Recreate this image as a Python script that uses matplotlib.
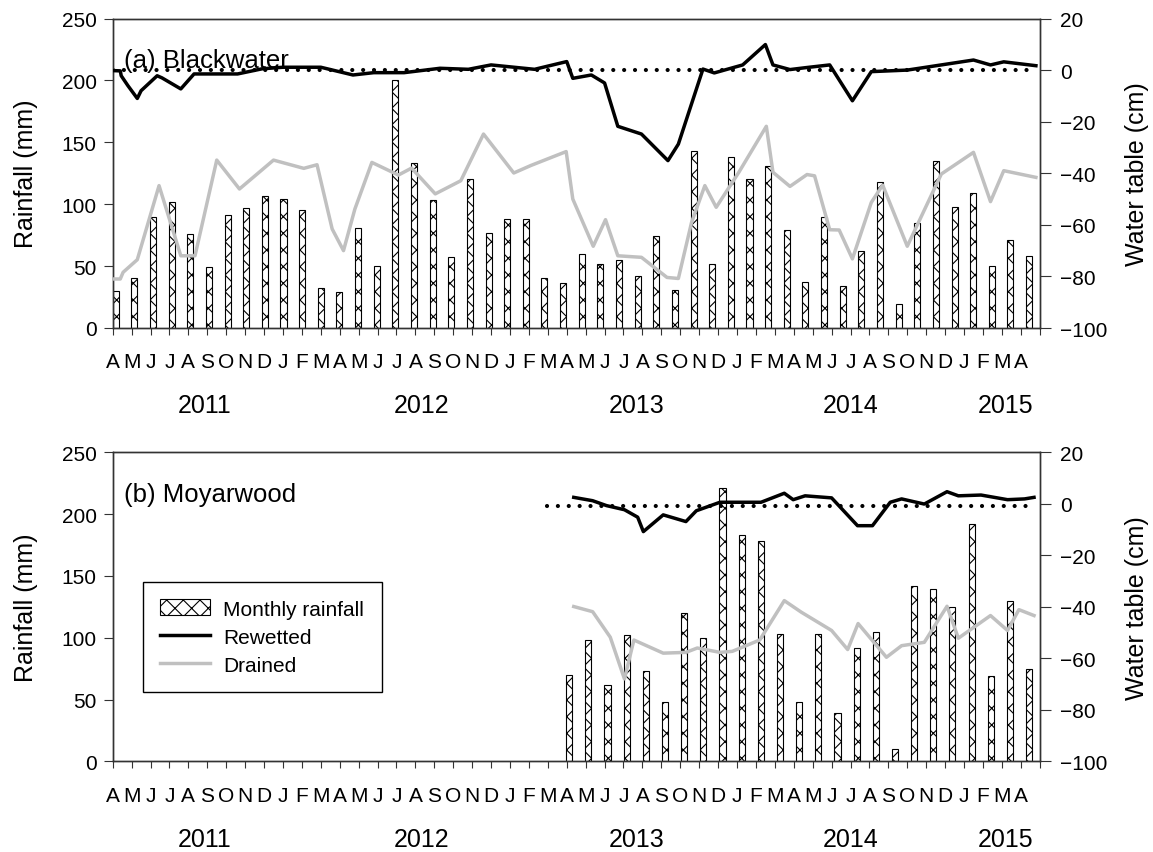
import numpy as np
import matplotlib
matplotlib.use("Agg")
import matplotlib.pyplot as plt
from matplotlib.patches import Patch
from matplotlib.lines import Line2D

plt.rcParams['font.family'] = ['Liberation Sans', 'DejaVu Sans']
plt.rcParams['hatch.linewidth'] = 0.8

# month labels, April 2011 .. April 2015
months = list("AMJJASOND") + list("JFMAMJJASOND") * 3 + list("JFMA")
years = ["2011", "2012", "2013", "2014", "2015"]
year_pos = [4.87, 16.33, 27.68, 39.03, 47.2]

# (a) Blackwater - monthly rainfall (mm), Apr 2011 .. May 2015
rain_a = [30, 40, 90, 102, 76, 49, 91, 97, 107, 104, 95, 32, 29, 81, 50,
          200, 133, 103, 57, 120, 77, 88, 88, 40, 36, 60, 52, 55, 42, 74,
          31, 143, 52, 138, 120, 131, 79, 37, 90, 34, 62, 118, 19, 85, 135,
          98, 109, 50, 71, 58]

# water table (cm), x in months since April 2011
wet_a_x = [0.0, 0.4, 0.45, 0.8, 1.3, 1.5, 2.35, 2.6, 3.6, 4.3, 6.6, 7.9, 9.0,
           11.0, 12.7, 13.8, 15.4, 17.3, 18.8, 20.0, 22.3, 24.0, 24.32, 25.3,
           26.0, 26.7, 27.95, 29.35, 29.9, 31.2, 31.8, 33.3, 34.5, 34.9, 35.8,
           36.7, 37.9, 39.1, 40.1, 42.0, 45.5, 46.4, 47.1, 48.8]
wet_a = [-0.2, -0.3, -2.2, -6, -11, -8, -2.2, -3, -7.3, -1.5, -1.5, 0.5, 1.1,
         1.1, -1.9, -1, -1, 0.7, 0.3, 2.0, 0.3, 3.3, -3.2, -1.9,
         -5, -21.8, -24.8, -35.1, -28.7, 0.4, -1.1, 2, 9.9, 2, 0.2,
         1, 2, -11.9, -0.6, 0, 3.9, 2, 3.2, 1.7]

dry_a_x = [0.0, 0.4, 0.55, 1.3, 2.45, 3.6, 4.35, 5.5, 6.7, 8.5, 10.1, 10.8,
           11.6, 12.2, 12.8, 13.7, 15.1, 15.8, 17.05, 18.4, 19.6, 21.2, 22.1,
           23.97, 24.32, 25.4, 26.05, 26.7, 27.95, 29.3, 29.9, 30.6, 31.3,
           31.9, 33.1, 34.55, 34.9, 35.8, 36.7, 37.1, 37.9, 38.4, 39.1, 40.1,
           40.7, 42.0, 43.8, 45.5, 46.4, 47.1, 48.8]
dry_a = [-81, -81, -78.4, -73.5, -44.8, -72, -72, -34.9, -46.1, -34.9, -38.1,
         -36.7, -61.6, -70, -53.9, -35.8, -40.7, -38, -48, -42.9, -24.8, -39.9,
         -37, -31.6, -50, -68.3, -58, -72, -72.6, -80.4, -80.8, -59, -44.8,
         -53.2, -39.6, -21.8, -39.6, -45.1, -40.5, -41, -61.9, -62, -73.2,
         -51.3, -44.6, -68.3, -40.3, -31.9, -51, -39, -41.6]

# (b) Moyarwood - monthly rainfall (mm), Apr 2013 .. Apr 2015
rain_b = [70, 98, 62, 102, 73, 48, 120, 100, 221, 183, 178, 103, 48, 103, 39,
          92, 105, 10, 142, 139, 125, 192, 69, 130, 75]

wet_b_x = [24.37, 25.37, 26.1, 27.05, 27.75, 28.05, 29.1, 30.3, 30.85, 32.1,
           34.27, 35.5, 35.97, 36.6, 38.0, 39.37, 40.16, 41.1, 41.7, 42.9,
           44.1, 44.7, 45.9, 47.3, 48.2, 48.7]
wet_b = [2.5, 1.2, -0.7, -2.3, -5.2, -10.8, -4.3, -6.9, -2.7, 0.6,
         0.6, 4.1, 1.6, 3.1, 2.3, -8.5, -8.5, 0.6, 1.9, -0.1,
         4.7, 3.1, 3.4, 1.6, 1.9, 2.5]

dry_b_x = [24.37, 25.37, 26.3, 27.05, 27.55, 29.1, 30.3, 30.9, 32.1, 32.75,
           34.2, 35.5, 36.4, 38.0, 38.85, 39.4, 40.9, 41.7, 42.9, 44.1, 44.7,
           46.4, 47.3, 47.9, 48.7]
dry_b = [-39.9, -41.9, -51.8, -68, -52.9, -58, -57.7, -56, -57.7, -57.3,
         -52.9, -37.6, -42.1, -49.2, -56.6, -46.5, -59.6, -55.1, -53.8, -39.8,
         -52.2, -43.4, -49.2, -41.1, -43.4]

GRAY = "#c0c0c0"
SPINE = "#333333"

fig = plt.figure(figsize=(11.53, 8.53), dpi=100)
ax_a = fig.add_axes([112.7 / 1153, 1 - 329 / 853, 927 / 1153, 309.5 / 853])
ax_b = fig.add_axes([112.7 / 1153, 1 - 762.3 / 853, 927 / 1153, 309 / 853])


def draw_panel(ax, rain, bar_x, wet_x, wet, dry_x, dry, ref_x, ref_y, title):
    ax.bar(bar_x, rain, width=0.32, align='edge', color='white',
           edgecolor='black', linewidth=0.8, hatch='xx', zorder=2)
    ax.set_xlim(0, 49)
    ax.set_ylim(0, 250)
    ax.set_yticks(range(0, 251, 50))
    ax.set_xticks(np.arange(50))
    ax.set_xticklabels(months + [""])
    ax.tick_params(axis='x', length=5, width=0.8, pad=12.5, labelsize=15,
                   color=SPINE)
    ax.tick_params(axis='y', length=6.5, width=0.8, pad=5, labelsize=15,
                   color=SPINE)
    ax.set_ylabel("Rainfall (mm)", fontsize=18)
    ax.yaxis.set_label_coords(-0.081, 0.5)
    for y, p in zip(years, year_pos):
        ax.text(p, -0.25, y, transform=ax.get_xaxis_transform(),
                ha='center', va='center', fontsize=18)

    tw = ax.twinx()
    tw.set_ylim(-100, 20)
    tw.set_yticks(range(-100, 21, 20))
    tw.tick_params(axis='y', length=8, width=0.8, pad=6.5, labelsize=15,
                   color=SPINE)
    tw.hlines(ref_y, ref_x[0], ref_x[1], colors='black', linewidth=3,
              linestyles=(0, (0.01, 2.6)), capstyle='round', zorder=2)
    tw.plot(dry_x, dry, color=GRAY, linewidth=2.5, zorder=3)
    tw.plot(wet_x, wet, color='black', linewidth=2.5, zorder=4)
    tw.set_ylabel("Water table (cm)", fontsize=18)
    tw.yaxis.set_label_coords(1.092, 0.5)
    tw.text(0.012, 0.866, title, transform=tw.transAxes, fontsize=18.5,
            ha='left', va='center')
    for a in (ax, tw):
        for s in a.spines.values():
            s.set_color(SPINE)
            s.set_linewidth(1)
    return tw


draw_panel(ax_a, rain_a, np.linspace(0.0, 48.28, len(rain_a)),
           wet_a_x, wet_a, dry_a_x, dry_a, (0.0, 48.8), 0, "(a) Blackwater")
tw_b = draw_panel(ax_b, rain_b, np.linspace(23.97, 48.28, len(rain_b)),
                  wet_b_x, wet_b, dry_b_x, dry_b, (22.95, 48.8), -1,
                  "(b) Moyarwood")

handles = [Patch(facecolor='white', edgecolor='black', hatch='xx',
                 linewidth=0.8),
           Line2D([], [], color='black', linewidth=2.5),
           Line2D([], [], color=GRAY, linewidth=2.5)]
leg = tw_b.legend(handles, ["Monthly rainfall", "Rewetted", "Drained"],
                  loc='upper left', bbox_to_anchor=(0.0324, 0.581),
                  borderaxespad=0, fontsize=15, frameon=True, fancybox=False,
                  edgecolor='black', framealpha=1, borderpad=0.85,
                  labelspacing=0.42, handlelength=2.4, handleheight=0.8,
                  handletextpad=0.6)
leg.get_frame().set_linewidth(1)

fig.savefig("out.png", dpi=100)
